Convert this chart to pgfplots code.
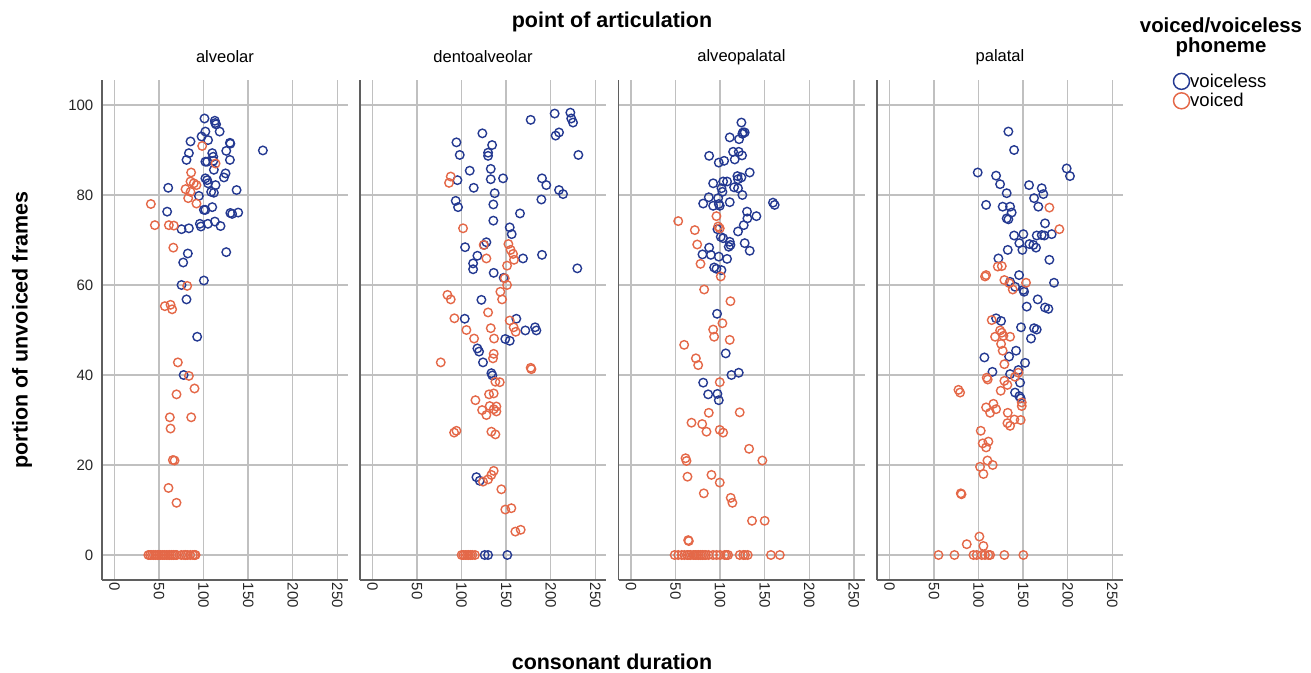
\documentclass[border=0pt]{standalone}
\usepackage{pgfplots}
\pgfplotsset{compat=1.18}
\usepackage{fontspec}
\setmainfont{Liberation Sans}
\definecolor{vl}{RGB}{36,57,145}
\definecolor{vd}{RGB}{228,104,72}
\definecolor{gridc}{RGB}{192,192,192}
\definecolor{axc}{RGB}{95,95,95}
\pgfplotsset{
 panel/.style={
  scale only axis, width=184.5pt, height=375pt, anchor=south west,
  xmin=-14, xmax=262, ymin=-5.556, ymax=105.556,
  axis x line*=bottom, axis y line*=left,
  axis line style={draw=axc, line width=1.1pt, -},
  xtick={0,50,...,250}, ytick={0,20,...,100},
  grid=major, major grid style={draw=gridc, line width=1.1pt},
  major tick length=0pt,
  tick label style={font=\fontsize{11.25}{13}\selectfont, text=black!85},
  /pgf/number format/assume math mode=true,
  xticklabel style={rotate=-90, anchor=west, xshift=-1.5pt},
  yticklabel style={xshift=-3pt},
  title style={at={(0.5,1)}, anchor=center, yshift=11.25pt, font=\fontsize{12.4}{14}\selectfont},
 },
 vls/.style={only marks, mark=o, mark size=3.2pt, color=vl, line width=1.05pt, mark options={line width=1.05pt}},
 vds/.style={only marks, mark=o, mark size=3.2pt, color=vd, line width=1.05pt, mark options={line width=1.05pt}},
}
\begin{document}
\begin{tikzpicture}
\path[use as bounding box] (0pt,0pt) rectangle (983.25pt,-504.75pt);
% ---------------- alveolar
\begin{axis}[panel, at={(76.5pt,-435pt)}, title={alveolar}]
\addplot[vls] coordinates {
(101,97.0) (112.6,96.5) (114,95.7) (113,96) (118,94.1) (102,94.1) (97.7,93) (105,92.2) (85.3,91.9) (129.5,91.6) (130,91.4) (166.5,89.9) (125.4,89.8) (109.7,89.3) (110.8,88.5) (83.5,89.3) (80.8,87.8) (129.5,87.8) (102,87.4) (104,87.4) (111,87.6) (111.5,85.6) (124.6,84.8) (122.8,83.9) (102,83.7) (104,83.3) (105,82.6) (113.4,82.2) (60.3,81.6) (137,81.1) (108.5,80.7) (111.5,80.5) (94.7,79.8) (59.1,76.3) (100.3,76.7) (102,76.7) (109.7,77.3) (130,76) (132,75.8) (138.8,76.1) (75.2,72.4) (83.5,72.6) (95.8,73.6) (97,73) (104.8,73.6) (112.6,74.1) (119,73.1) (82.3,67.0) (125.4,67.3) (77.1,65.0) (75.2,60.0) (100.3,61.0) (80.8,56.8) (92.8,48.5) (77.6,40.0)
};
\addplot[vds] coordinates {
(98.4,90.9) (113.4,87) (86,85) (85.3,83) (89,82.6) (92,82.2) (79.7,81.3) (85.3,80.7) (82.7,79.3) (92,78.1) (40.8,78) (45.3,73.3) (61,73.3) (66.6,73.2) (66,68.3) (81.6,59.8) (56.5,55.3) (62.9,55.6) (64.7,54.6) (71.1,42.8) (83.5,39.8) (89.8,37.0) (69.6,35.7) (62.1,30.6) (86.1,30.6) (62.9,28.1) (65.5,21.1) (67.4,21) (60.6,14.9) (69.6,11.6)
(38,0) (40,0) (42,0) (44,0) (46,0) (48,0) (50,0) (52,0) (54,0) (56,0) (58,0) (60,0) (62,0) (64,0) (66,0) (68,0) (70,0) (75,0) (78,0) (80,0) (82,0) (85,0) (88,0) (90,0) (91,0)
};
\end{axis}
% ---------------- dentoalveolar
\begin{axis}[panel, at={(270pt,-435pt)}, title={dentoalveolar}, yticklabels={}]
\addplot[vls] coordinates {
(177.5,96.7) (204.4,98.1) (222,98.3) (223,97) (225,96.1) (123.3,93.7) (94.2,91.7) (134.2,91.1) (129.7,89.4) (129.7,88.7) (209.3,93.9) (205.5,93.2) (97.9,88.9) (231,88.9) (132.7,85.8) (109.1,85.4) (95.3,83.3) (132.7,83.5) (146.5,83.7) (190.2,83.7) (195,82.2) (113.6,81.6) (209.3,81.1) (213.8,80.2) (137.1,80.4) (189.5,79.0) (93.4,78.7) (96,77.3) (135.6,77.9) (165.5,75.9) (135.6,74.3) (154,72.8) (156.2,71.3) (127.8,69.5) (125.2,68.9) (103.9,68.4) (117.7,66.5) (168.9,65.9) (190.2,66.7) (112.9,64.8) (112.9,63.5) (229.8,63.7) (136,62.7) (147.2,61.6) (122.2,56.7) (103.5,52.5) (161.4,52.5) (182.4,50.6) (183.9,49.9) (171.5,49.9) (149,48) (154,47.6) (117.7,45.9) (119.6,45.2) (124,42.8) (133.4,40.4) (134.5,39.9) (116.6,17.3) (120.3,16.5) (125.9,0) (129.7,0) (151.3,0)
};
\addplot[vds] coordinates {
(87.8,84.1) (85.9,82.7) (101.6,72.6) (124.8,68.9) (152.5,69.1) (155,67.8) (157.7,66.9) (158.8,65.6) (127.8,65.9) (151,64.3) (148.4,61.5) (151,60) (143.5,58.5) (145.4,56.8) (84.1,57.8) (87.8,56.8) (129.7,53.9) (91.9,52.6) (105.4,50) (132.7,50.4) (154,52.1) (158.4,50.6) (160.7,49.6) (114,48.1) (136.4,48.1) (136,44.7) (135.2,43.7) (76.6,42.8) (177.5,41.6) (178.3,41.3) (137.9,38.5) (142.8,38.4) (130.8,35.7) (136,35.9) (115.5,34.4) (131.5,33.1) (139,33) (136,32.4) (139,31.9) (123,32.2) (127.8,31.1) (91.6,27.2) (94.2,27.6) (133.4,27.4) (137.9,26.8) (136,18.7) (133.4,17.8) (129.7,16.8) (124,16.3) (144.6,14.6) (149,10.1) (155.8,10.4) (160.3,5.2) (166.3,5.6)
(100,0) (102,0) (104,0) (106,0) (108,0) (110,0) (112,0) (115,0)
};
\end{axis}
% ---------------- alveopalatal
\begin{axis}[panel, at={(463.875pt,-435pt)}, title={alveopalatal}, yticklabels={}]
\addplot[vls] coordinates {
(123.9,96.1) (125.7,93.9) (127.6,93.9) (125,93.6) (110.8,92.8) (121.3,92.4) (114.6,89.6) (120.9,89.6) (124.6,88.8) (87.7,88.7) (98.5,87.2) (104.5,87.6) (116.4,87.9) (133.2,85) (119.4,84.2) (123.9,83.9) (120.1,83.5) (92.2,82.6) (103.4,83) (107.8,83) (101.5,81.5) (102.6,80.7) (115.7,81.7) (120.1,81.5) (125,80) (87.3,79.5) (97.8,79.3) (81,78.1) (92.2,77.6) (98.5,78) (99.6,77.6) (110.8,78.4) (159.3,78.3) (161.2,77.8) (130.2,76.3) (140.7,75.3) (130.6,74.8) (126.5,73.3) (120.1,71.9) (97,72.4) (100.7,70.7) (103.4,70.4) (110.8,69.6) (111.6,68.9) (109.7,68.5) (127.6,69.3) (133.2,67.6) (87.7,68.3) (80.2,66.8) (89.6,66.7) (98.5,66.3) (107.8,65.8) (93.3,63.9) (95.9,63.6) (101.5,63.3) (96.6,53.6) (106.3,44.8) (112.7,40) (120.9,40.5) (81,38.3) (86.6,35.7) (97,35.8) (98.5,34.4)
};
\addplot[vds] coordinates {
(53,74.2) (95.9,75.3) (71.6,72.2) (97.8,73) (99.6,72.6) (74.3,69) (78,64.7) (100.7,61.9) (82.1,59) (111.6,56.4) (102.6,51.5) (92.2,50.1) (93.3,48.5) (110.8,47.8) (59.7,46.7) (72.8,43.7) (75.4,42.2) (99.6,38.4) (87.3,31.6) (122,31.7) (67.9,29.4) (79.9,29.1) (84.7,27.4) (99.6,27.8) (103.4,27.2) (132.5,23.6) (61.2,21.5) (62.3,20.9) (147.4,21) (63.4,17.4) (90.3,17.8) (99.6,16.1) (81.7,13.7) (111.9,12.7) (113.8,11.6) (135.8,7.6) (150,7.6) (64.2,3.3) (64.9,3.1)
(49,0) (53,0) (57,0) (60,0) (63,0) (65,0) (67,0) (70,0) (72,0) (74,0) (76,0) (78,0) (80,0) (82,0) (84,0) (87,0) (92,0) (96,0) (100,0) (105,0) (107,0) (109,0) (122,0) (126,0) (128,0) (131,0) (157,0) (167,0)
};
\end{axis}
% ---------------- palatal
\begin{axis}[panel, at={(657.75pt,-435pt)}, title={palatal}, yticklabels={},
  legend style={at={(1.2053,1.014)}, anchor=north west, draw=none, fill=none, inner sep=0pt, outer sep=0pt,
    row sep=2pt, font=\fontsize{13.9}{16}\selectfont, nodes={inner sep=0.5pt}},
  legend cell align=left,
  legend image code/.code={\draw[#1, mark size=6pt, mark options={line width=1.1pt}] plot coordinates {(0pt,0pt)};}]
\addplot[vls] coordinates {
(133.4,94.1) (139.8,90) (99,85) (198.8,85.9) (202.5,84.2) (119.6,84.3) (124.1,82.4) (156.6,82.2) (170.8,81.5) (172.6,80.2) (131.5,80.4) (162.2,79.3) (167,77.4) (108.4,77.8) (127,77.4) (135.3,77.4) (137.1,76.1) (131.5,74.8) (133.4,74.6) (174.5,73.7) (139.8,71) (150.2,71.3) (165.2,71) (170.8,71.1) (173.8,71) (182,71.3) (145.7,69.3) (149.1,67.8) (157,69.1) (161.4,68.9) (164.4,68.3) (132.7,67.8) (122.2,65.9) (179.4,65.6) (184.6,60.5) (145.4,62.2) (135.3,60.7) (140.9,59.6) (150.2,58.9) (151,58.5) (166.3,56.8) (154,55.2) (174.5,55) (178.3,54.7) (119.6,52.6) (125.2,52) (147.6,50.6) (162.2,50.4) (165.2,50.1) (158.8,48.1) (106.5,43.9) (142,45.4) (152.1,42.7) (134.2,44.1) (115.5,40.7) (135.3,40.2) (144.6,41.1) (146.5,38.3) (140.9,36.1) (145.7,35.3) (147.2,34.8)
};
\addlegendentry{voiceless}
\addplot[vds] coordinates {
(179.4,77.2) (190.6,72.4) (121.5,64.1) (126,64.2) (108.4,62.2) (107.2,61.9) (128.9,61.1) (153.2,60.5) (134.5,60.4) (138.3,59) (114.7,52.2) (124.1,49.9) (126,49.4) (127.8,48.7) (118.5,48.5) (135.3,48.5) (125.2,46.9) (127,45.4) (128.9,42.4) (109.1,39.4) (110.2,39) (128.9,38.7) (132.3,37.8) (124.8,36.5) (77.4,36.7) (79.2,36.1) (140.9,39.6) (144.6,40.5) (148.4,33.9) (148.4,33.1) (108.4,32.8) (116.6,33.6) (119.6,32.4) (112.9,31.6) (132.7,31.6) (140.1,30.1) (147.2,30) (132.3,29.3) (135.3,28.7) (102.4,27.6) (104.6,24.8) (111,25.2) (108.4,23.9) (109.9,21) (101.6,19.6) (115.8,20) (105.4,18) (80,13.7) (80.8,13.5) (100.9,4.1) (86.7,2.4) (105.4,2)
(55,0) (72.9,0) (94.2,0) (97.9,0) (103.5,0) (107.2,0) (111,0) (112.9,0) (128.9,0) (150.2,0)
};
\addlegendentry{voiced}
\end{axis}
% ---------------- titles
\node[font=\bfseries\fontsize{16.1}{19}\selectfont] at (459pt,-16.5pt) {point of articulation};
\node[font=\bfseries\fontsize{16.1}{19}\selectfont, rotate=90] at (16.5pt,-247.5pt) {portion of unvoiced frames};
\node[font=\bfseries\fontsize{16.1}{19}\selectfont] at (459pt,-496.5pt) {consonant duration};
\node[font=\bfseries\fontsize{15.3}{15}\selectfont, align=center] at (915.75pt,-28.2pt) {voiced/voiceless\\phoneme};
\end{tikzpicture}
\end{document}
